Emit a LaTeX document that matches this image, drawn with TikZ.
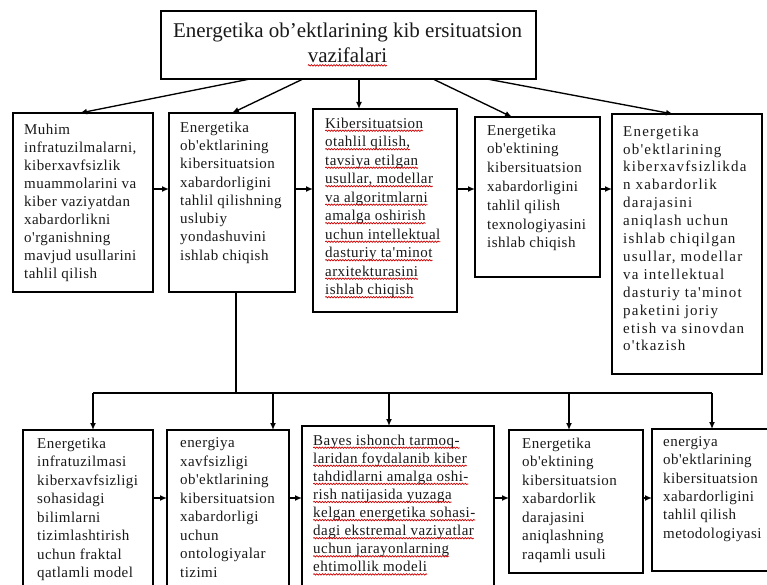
\documentclass[tikz,border=0pt]{standalone}
\usepackage{fontspec}
\setmainfont{Liberation Serif}
\newfontfamily\bxf{Liberation Serif}[LetterSpace=3]
\newfontfamily\bxe{Liberation Serif}[LetterSpace=8]
\usetikzlibrary{arrows.meta,decorations.pathmorphing}
\newlength\rwlen
\newcommand\redwave[1]{\settowidth\rwlen{#1}#1\tikz[overlay]{\draw[red!80!black,line width=0.7pt,decorate,decoration={snake,amplitude=0.7pt,segment length=2.8pt}] (-\rwlen,-2.6pt) -- (0pt,-2.6pt);}}
\begin{document}
\begin{tikzpicture}[x=1pt,y=-1pt,
  box/.style={draw=black,line width=1.4pt,inner sep=0pt,outer sep=0pt},
  obox/.style={inner sep=0pt,outer sep=0pt},
  boxline/.style={draw=black,line width=1.4pt},
  conn/.style={line width=1.35pt},
  arr/.style={conn,-{Latex[length=7pt,width=6pt]}},
  txt/.style={anchor=north west,inner sep=0pt,align=left,text=black!90},
  ]
\useasboundingbox (0,0) rectangle (767,585);
% title
\node[box,minimum width=375pt,minimum height=68pt] (T) at (348.5,45) {};
\node[anchor=north,inner sep=0pt,align=center,text=black!90,font={\fontsize{21}{25}\selectfont}] (Tt) at (347.5,23)
  {Energetika ob'ektlarining kib ersituatsion\\\redwave{vazifalari}};
% row 1 boxes
\node[box,minimum width=140pt,minimum height=179pt] (A) at (83,202.5) {};
\node[box,minimum width=126pt,minimum height=179pt] (B) at (232,202.5) {};
\node[box,minimum width=144pt,minimum height=203pt] (C) at (385,210.5) {};
\node[box,minimum width=125pt,minimum height=160pt] (D) at (537.5,197) {};
\node[box,minimum width=150pt,minimum height=260pt] (E) at (687,244) {};
% row 1 texts
\node[txt,font={\bxf\fontsize{15}{18}\selectfont}] (At) at (24,123.5)
  {Muhim\\infratuzilmalarni,\\kiberxavfsizlik\\muammolarini va\\kiber vaziyatdan\\xabardorlikni\\o'rganishning\\mavjud usullarini\\tahlil qilish};
\node[txt,font={\bxf\fontsize{15}{18.3}\selectfont}] (Bt) at (180,121.5)
  {Energetika\\ob'ektlarining\\kibersituatsion\\xabardorligini\\tahlil qilishning\\uslubiy\\yondashuvini\\ishlab chiqish};
\node[txt,font={\bxf\fontsize{15}{18.5}\selectfont}] (Ct) at (325,117.5)
  {\redwave{Kibersituatsion}\\\redwave{otahlil qilish,}\\\redwave{tavsiya etilgan}\\\redwave{usullar, modellar}\\\redwave{va algoritmlarni}\\\redwave{amalga oshirish}\\\redwave{uchun intellektual}\\\redwave{dasturiy ta'minot}\\\redwave{arxitekturasini}\\\redwave{ishlab chiqish}};
\node[txt,font={\bxf\fontsize{15}{18.8}\selectfont}] (Dt) at (487,124.5)
  {Energetika\\ob'ektining\\kibersituatsion\\xabardorligini\\tahlil qilish\\texnologiyasini\\ishlab chiqish};
\node[txt,font={\bxe\fontsize{15}{17.9}\selectfont}] (Et) at (623,125.5)
  {Energetika\\ob'ektlarining\\kiberxavfsizlikda\\n xabardorlik\\darajasini\\aniqlash uchun\\ishlab chiqilgan\\usullar, modellar\\va intellektual\\dasturiy ta'minot\\paketini joriy\\etish va sinovdan\\o'tkazish};
% row 2 boxes
\node[obox,minimum width=130pt,minimum height=155pt] (F) at (88,507.5) {};
\draw[boxline] (F.south west) -- (F.north west) -- (F.north east) -- (F.south east);
\node[obox,minimum width=122pt,minimum height=155pt] (G) at (228,507.5) {};
\draw[boxline] (G.south west) -- (G.north west) -- (G.north east) -- (G.south east);
\node[obox,minimum width=192pt,minimum height=159pt] (H) at (398,505.5) {};
\draw[boxline] (H.south west) -- (H.north west) -- (H.north east) -- (H.south east);
\node[box,minimum width=134pt,minimum height=143pt] (I) at (576,501.5) {};
\node[obox,minimum width=120pt,minimum height=142pt] (J) at (712,500) {};
\draw[boxline] (J.north east) -- (J.north west) -- (J.south west) -- (J.south east);
% row 2 texts
\node[txt,font={\bxf\fontsize{15}{18.5}\selectfont}] (Ft) at (37,437.5)
  {Energetika\\infratuzilmasi\\kiberxavfsizligi\\sohasidagi\\bilimlarni\\tizimlashtirish\\uchun fraktal\\qatlamli model};
\node[txt,font={\bxf\fontsize{15}{18.5}\selectfont}] (Gt) at (180,437.5)
  {energiya\\xavfsizligi\\ob'ektlarining\\kibersituatsion\\xabardorligi\\uchun\\ontologiyalar\\tizimi};
\node[txt,font={\bxf\fontsize{15}{18.1}\selectfont}] (Ht) at (313,434.5)
  {\redwave{Bayes ishonch tarmoq-}\\\redwave{laridan foydalanib kiber}\\\redwave{tahdidlarni amalga oshi-}\\\redwave{rish natijasida yuzaga}\\\redwave{kelgan energetika sohasi-}\\\redwave{dagi ekstremal vaziyatlar}\\\redwave{uchun jarayonlarning}\\\redwave{ehtimollik modeli}};
\node[txt,font={\bxf\fontsize{15}{18.5}\selectfont}] (It) at (522,437.5)
  {Energetika\\ob'ektining\\kibersituatsion\\xabardorlik\\darajasini\\aniqlashning\\raqamli usuli};
\node[txt,font={\bxf\fontsize{15}{18.3}\selectfont}] (Jt) at (663,436.5)
  {energiya\\ob'ektlarining\\kibersituatsion\\xabardorligini\\tahlil qilish\\metodologiyasi};
% title arrows
\draw[arr] ([xshift=-98.5pt]T.south) -- ([xshift=-3pt]A.north);
\draw[arr] ([xshift=-45.5pt]T.south) -- (B.north);
\draw[arr] ([xshift=10.5pt]T.south) -- ([xshift=-26pt]C.north);
\draw[arr] ([xshift=84.5pt]T.south) -- ([xshift=-25.5pt]D.north);
\draw[arr] ([xshift=138.5pt]T.south) -- ([xshift=-14pt]E.north);
% row 1 horizontal arrows
\draw[arr] ([yshift=13.5pt]A.east) -- ([yshift=13.5pt]B.west);
\draw[arr] ([yshift=13.5pt]B.east) -- ([yshift=21.5pt]C.west);
\draw[arr] ([yshift=21.5pt]C.east) -- ([yshift=8pt]D.west);
\draw[arr] ([yshift=8pt]D.east) -- ([yshift=55pt]E.west);
% bus
\coordinate (bj) at (236,393);
\coordinate (bl) at (93,393);
\coordinate (br) at (712,393);
\coordinate (dG) at (273,393);
\coordinate (dH) at (389,393);
\coordinate (dI) at (569,393);
\draw[conn] ([xshift=4pt]B.south) -- (bj);
\draw[conn] (bl) -- (br);
\draw[arr] (bl) -- (bl |- F.north);
\draw[arr] (dG) -- (dG |- G.north);
\draw[arr] (dH) -- (dH |- H.north);
\draw[arr] (dI) -- (dI |- I.north);
\draw[arr] (br) -- (br |- J.north);
% row 2 horizontal arrows
\draw[arr] ([yshift=9.5pt]F.east) -- ([yshift=9.5pt]G.west);
\draw[arr] ([yshift=9.5pt]G.east) -- ([yshift=7.5pt]H.west);
\draw[arr] ([yshift=7.5pt]H.east) -- ([yshift=3.5pt]I.west);
\draw[arr] ([yshift=3.5pt]I.east) -- ([yshift=2pt]J.west);
\end{tikzpicture}
\end{document}
